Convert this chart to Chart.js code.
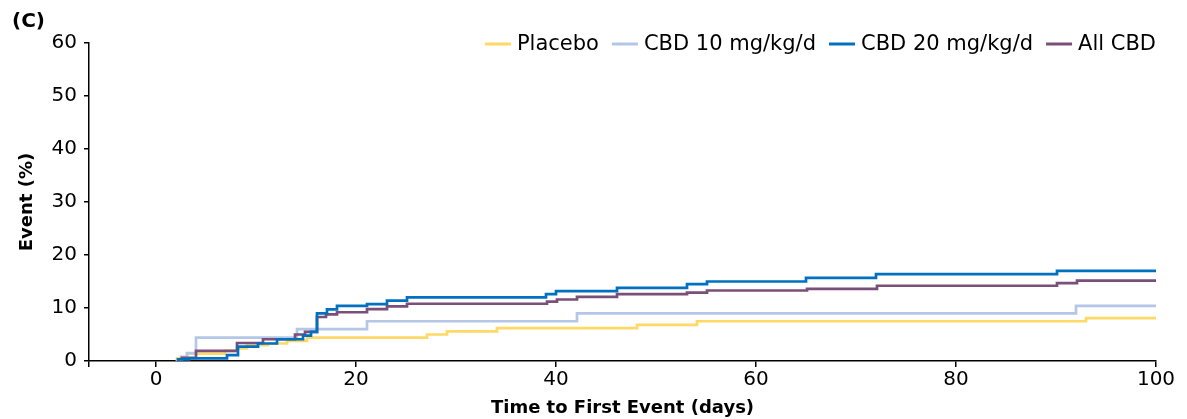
<!DOCTYPE html>
<html>
<head>
<meta charset="utf-8">
<script src="https://cdn.jsdelivr.net/npm/chart.js@4.4.1/dist/chart.umd.min.js"></script>
<style>
  html, body { margin: 0; padding: 0; background: #fff; }
  #wrap { position: relative; width: 1187px; height: 419px; }
  #panel { position: absolute; left: 12px; top: 8px; font: bold 20px "DejaVu Sans", sans-serif; color: #000; }
</style>
</head>
<body>
<div id="wrap">
  <canvas id="c" width="1187" height="419"></canvas>
  <div id="panel">(C)</div>
</div>
<script>
// ---- data ----
const seriesNames = ['Placebo', 'CBD 10 mg/kg/d', 'CBD 20 mg/kg/d', 'All CBD'];
const xTicks = [0, 20, 40, 60, 80, 100];
const yTicks = [0, 10, 20, 30, 40, 50, 60];

// event times (days) and cumulative event % after each step; each curve starts at 0 % at its first event time
const placeboT = [2.1, 2.1, 3.1, 6.9, 8.1, 9.1, 11.2, 13.1, 15.1, 27.1, 29.1, 34.1, 48.1, 54.1, 93.0, 100];
const placeboV = [0, 0.5, 1.4, 1.9, 2.4, 3.0, 3.3, 3.8, 4.4, 5.0, 5.6, 6.2, 6.8, 7.5, 8.1, 8.1];

const cbd10T = [2.5, 2.5, 3.1, 4.0, 14.1, 21.1, 42.1, 92.0, 100];
const cbd10V = [0, 0.8, 1.5, 4.4, 6.0, 7.5, 9.0, 10.4, 10.4];

const cbd20T = [2.2, 2.2, 3.3, 7.1, 8.2, 10.2, 12.1, 14.7, 15.5, 16.1, 17.1, 18.1, 21.1, 23.1, 25.1, 39.0, 40.0, 46.1, 53.1, 55.1, 65.0, 72.0, 90.1, 100];
const cbd20V = [0, 0.3, 0.5, 1.1, 2.7, 3.3, 4.1, 4.8, 5.5, 9.0, 9.75, 10.4, 10.75, 11.4, 12.0, 12.6, 13.2, 13.8, 14.5, 15.0, 15.7, 16.4, 17.0, 17.0];

const allT = [2.6, 2.6, 4.0, 8.1, 10.7, 13.9, 14.9, 16.1, 17.0, 18.1, 21.1, 23.1, 25.1, 39.1, 40.1, 42.1, 46.1, 53.1, 55.1, 65.1, 72.1, 90.1, 92.1, 100];
const allV = [0, 0.6, 1.9, 3.4, 4.1, 5.0, 5.5, 8.3, 8.8, 9.2, 9.8, 10.3, 10.8, 11.2, 11.6, 12.1, 12.6, 12.9, 13.3, 13.6, 14.2, 14.7, 15.15, 15.15];

const xMin = -6.7, xMax = 100, yMin = 0, yMax = 60;
const colors = ['#FFD966', '#B4C7E7', '#0070C0', '#7A4F79'];

function pts(t, v) { return t.map((x, i) => ({ x: x, y: v[i] })); }

const seriesT = [placeboT, cbd10T, cbd20T, allT];
const seriesV = [placeboV, cbd10V, cbd20V, allV];

const datasets = seriesNames.map((name, i) => ({
  label: name,
  data: pts(seriesT[i], seriesV[i]),
  borderColor: colors[i],
  backgroundColor: colors[i],
  borderWidth: 2.7,
  pointRadius: 0,
  stepped: 'before',
  fill: false,
  order: [3, 2, 0, 1][i]
}));

const FONT = '"DejaVu Sans", sans-serif';

const legendPlugin = {
  id: 'customLegend',
  afterDraw(chart) {
    const ctx = chart.ctx;
    const area = chart.chartArea;
    ctx.save();
    ctx.font = '21px ' + FONT;
    const lineW = 26, gap = 6, spacing = 13;
    const widths = seriesNames.map(n => ctx.measureText(n).width);
    let total = 0;
    widths.forEach((w, i) => { total += lineW + gap + w + (i < widths.length - 1 ? spacing : 0); });
    let x = area.right - total;
    const y = area.top + 1;
    ctx.textBaseline = 'middle';
    ctx.textAlign = 'left';
    seriesNames.forEach((n, i) => {
      ctx.strokeStyle = colors[i];
      ctx.lineWidth = 3;
      ctx.beginPath();
      ctx.moveTo(x, y);
      ctx.lineTo(x + lineW, y);
      ctx.stroke();
      x += lineW + gap;
      ctx.fillStyle = '#000';
      ctx.fillText(n, x, y + 1);
      x += widths[i] + spacing;
    });
    ctx.restore();
  }
};

new Chart(document.getElementById('c'), {
  type: 'line',
  data: { datasets: datasets },
  plugins: [legendPlugin],
  options: {
    responsive: false,
    animation: false,
    devicePixelRatio: 1,
    layout: { padding: { left: 0, right: 31, top: 43, bottom: 0 } },
    plugins: { legend: { display: false }, tooltip: { enabled: false } },
    scales: {
      x: {
        type: 'linear',
        min: xMin, max: xMax,
        afterBuildTicks(scale) { scale.ticks = [xMin].concat(xTicks).map(v => ({ value: v })); },
        afterFit(scale) { scale.height = 58; },
        ticks: {
          color: '#000',
          font: { family: FONT, size: 20 },
          padding: 1,
          maxRotation: 0,
          autoSkip: false,
          callback: (v) => (xTicks.includes(v) ? String(v) : '')
        },
        grid: { drawOnChartArea: false, drawTicks: true, tickLength: 6, color: '#000', lineWidth: 1.5 },
        border: { display: true, color: '#000', width: 1.5 },
        title: {
          display: true,
          text: 'Time to First Event (days)',
          color: '#000',
          font: { family: FONT, size: 18, weight: 'bold', lineHeight: 1.2 },
          padding: { top: 0, bottom: 0 }
        }
      },
      y: {
        type: 'linear',
        min: yMin, max: yMax,
        afterBuildTicks(scale) { scale.ticks = yTicks.map(v => ({ value: v })); },
        afterFit(scale) { scale.width = 89; },
        ticks: {
          color: '#000',
          font: { family: FONT, size: 20 },
          padding: 7,
          autoSkip: false
        },
        grid: { drawOnChartArea: false, drawTicks: true, tickLength: 5, color: '#000', lineWidth: 1.5 },
        border: { display: true, color: '#000', width: 1.5 },
        title: {
          display: true,
          text: 'Event (%)',
          color: '#000',
          font: { family: FONT, size: 18, weight: 'bold', lineHeight: 1.2 },
          padding: { top: 17, bottom: 0 }
        }
      }
    }
  }
});
</script>
</body>
</html>
